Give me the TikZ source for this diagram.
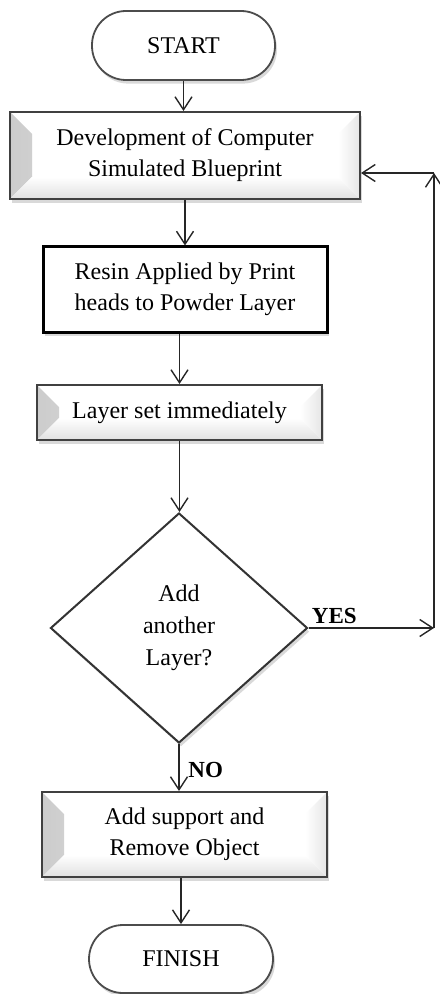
\documentclass[tikz,border=0pt]{standalone}
\usepackage{fontspec}
\setmainfont{Liberation Serif}
\usetikzlibrary{arrows.meta,shapes.geometric,shadows}
\pgfdeclareradialshading{softpill}{\pgfpoint{0bp}{0bp}}{%
  color(0bp)=(white); color(33bp)=(white); color(50bp)=(black!20); color(72bp)=(black!28)}
\pgfdeclareradialshading{softdia}{\pgfpoint{0bp}{0bp}}{%
  color(0bp)=(white); color(24bp)=(white); color(36bp)=(black!14); color(72bp)=(black!14)}
\begin{document}
\begin{tikzpicture}[x=0.5pt,y=-0.5pt,
  every node/.style={font=\fontsize{12}{15.5}\selectfont, align=center, inner sep=0pt},
  arr/.style={line width=0.8pt, draw=black!85,
    -{Straight Barb[length=6.5pt,width=8.5pt,line width=0.7pt]}},
  lbl/.style={font=\fontsize{11.5}{14}\selectfont\bfseries},
  shad/.style={drop shadow={shadow xshift=1pt, shadow yshift=-1.8pt, opacity=0.3, fill=black!50}},
  bevelbox/.style={rectangle, draw=black!75, line width=1pt, fill=white, shad,
    path picture={
      \shade[left color=black!20, right color=white]
        (path picture bounding box.south west) -- (path picture bounding box.north west)
        -- ([xshift=11pt,yshift=-11pt]path picture bounding box.north west)
        -- ([xshift=11pt,yshift=11pt]path picture bounding box.south west) -- cycle;
      \shade[bottom color=black!12, top color=white]
        (path picture bounding box.south west) -- (path picture bounding box.south east)
        -- ([xshift=-11pt,yshift=11pt]path picture bounding box.south east)
        -- ([xshift=11pt,yshift=11pt]path picture bounding box.south west) -- cycle;
      \shade[right color=black!10, left color=white]
        (path picture bounding box.south east) -- (path picture bounding box.north east)
        -- ([xshift=-11pt,yshift=-11pt]path picture bounding box.north east)
        -- ([xshift=-11pt,yshift=11pt]path picture bounding box.south east) -- cycle;
    }},
  plainbox/.style={rectangle, draw=black, line width=1.5pt, fill=white, shad},
  pill/.style={rectangle, rounded corners=17pt, draw=black!70, line width=0.9pt,
    fill=white, shading=softpill, shad},
  decision/.style={diamond, draw=black!80, line width=1pt, fill=white,
    shading=softdia, aspect=1.12, shad}
]
\useasboundingbox (0,0) rectangle (439,994);

\node[pill, minimum width=91.5pt, minimum height=34.5pt] (start) at (183.5,45.5) {START};
\node[bevelbox, minimum width=175pt, minimum height=43.5pt] (box2) at (185,155.5)
  {Development of Computer\\Simulated Blueprint};
\node[plainbox, minimum width=142pt, minimum height=42.5pt] (box3) at (185,289.5)
  {Resin Applied by Print\\heads to Powder Layer};
\node[bevelbox, minimum width=142.5pt, minimum height=27.5pt] (box4) at (179.5,412.5)
  {Layer set immediately};
\node[decision, minimum width=128.5pt, minimum height=115pt,
  font=\fontsize{12}{16}\selectfont] (dia) at (179,628)
  {Add\\another\\Layer?};
\node[bevelbox, minimum width=142.5pt, minimum height=42.5pt] (box5) at (184.5,834.5)
  {Add support and\\Remove Object};
\node[pill, minimum width=92pt, minimum height=34pt] (finish) at (181,959) {FINISH};

\coordinate (fbr) at (434,173);
\coordinate (fbl) at (dia.east -| fbr);

\draw[arr] (start.south) -- (start.south |- box2.north);
\draw[arr] (box2.south) -- (box2.south |- box3.north);
\draw[arr] (box4.north |- box3.south) -- (box4.north);
\draw[arr] (box4.south) -- (box4.south |- dia.north);
\draw[arr] (dia.south) -- (dia.south |- box5.north);
\draw[arr] (finish.north |- box5.south) -- (finish.north);
\draw[arr] (dia.east) -- (fbl);
\draw[arr] (fbl) -- (fbr);
\draw[arr] (fbr) -- (fbr -| box2.east);

\node[lbl, anchor=south west] (yes) at ([xshift=1.5pt,yshift=2pt]dia.east) {YES};
\node[lbl, anchor=west] (no) at (188,770) {NO};
\end{tikzpicture}
\end{document}
